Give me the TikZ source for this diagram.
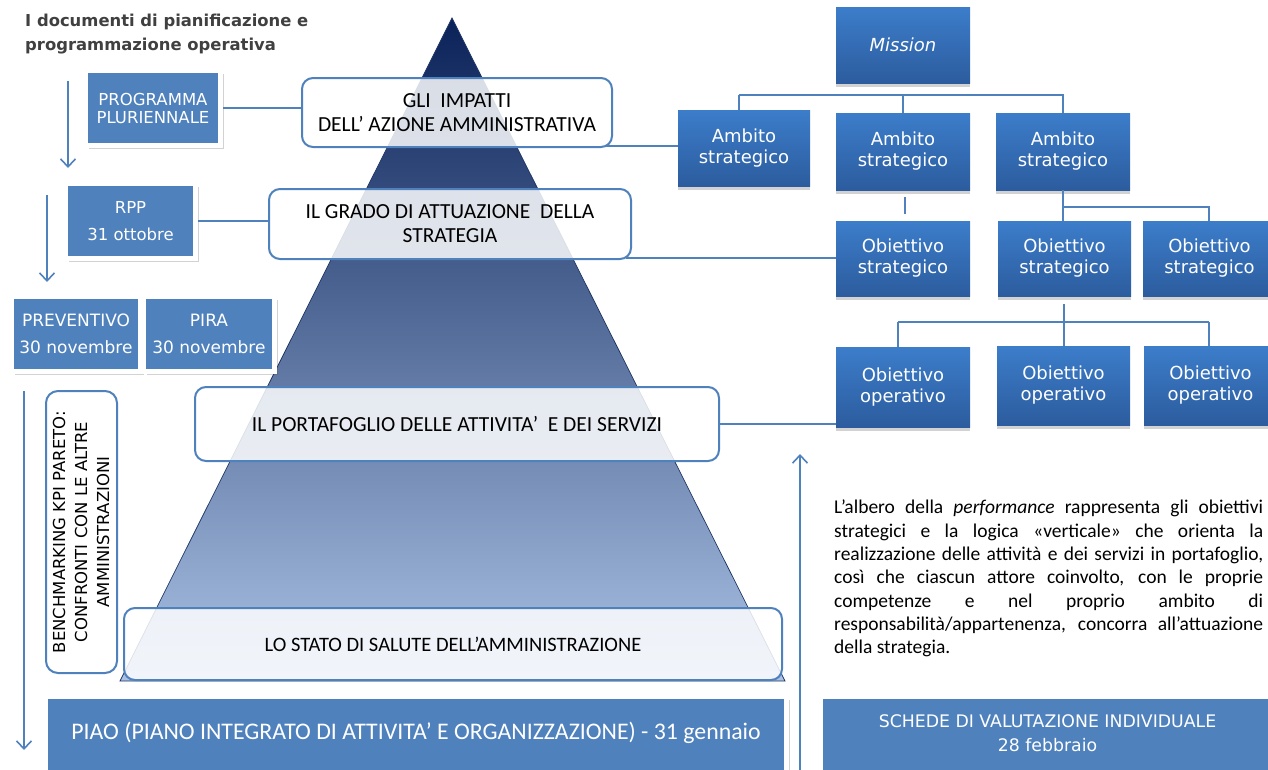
\documentclass[tikz,border=0pt]{standalone}
\usepackage{fontspec}
\setmainfont{DejaVu Sans}
\newfontfamily\calfont{Carlito}
\usetikzlibrary{shadows,arrows.meta}
\definecolor{boxblue}{RGB}{79,129,189}
\definecolor{treetop}{RGB}{60,125,202}
\definecolor{treebot}{RGB}{44,92,158}
\definecolor{pyrtop}{RGB}{10,34,88}
\definecolor{pyrbot}{RGB}{170,194,228}
\definecolor{pyredge}{RGB}{30,52,100}
\definecolor{titlegrey}{RGB}{64,64,64}
\tikzset{
  conn/.style={draw=boxblue, line width=1.3pt},
  arr/.style={draw=boxblue, line width=1.6pt, -{Straight Barb[length=8pt,width=15pt,line width=1.6pt]}},
  docbox/.style={rectangle, fill=boxblue, draw=white, line width=5pt, text=white, align=center, inner sep=0pt,
    drop shadow={shadow xshift=3pt, shadow yshift=-3pt, opacity=0.25, fill=black!70}},
  treebox/.style={rectangle, top color=treetop, bottom color=treebot, text=white, align=center, inner sep=0pt,
    font=\fontsize{18}{21}\selectfont,
    drop shadow={shadow xshift=0pt, shadow yshift=-4pt, opacity=0.22, fill=black!80}},
  levelbox/.style={rectangle, rounded corners=11pt, draw=boxblue, line width=2pt, fill=white, fill opacity=0.84,
    text opacity=1, text=black, align=center, inner sep=0pt, font=\calfont\fontsize{21.5}{24}\selectfont},
  plain/.style={inner sep=0pt, align=center},
}
\begin{document}
\begin{tikzpicture}[x=1pt,y=-1pt]
\useasboundingbox (0,0) rectangle (1268,769);

% title
\node[anchor=north west, inner sep=0pt, align=left, text=titlegrey, font=\bfseries\fontsize{16.4}{24}\selectfont] (title) at (25,14)
  {I documenti di pianificazione e\\programmazione operativa};

% pyramid
\path[top color=pyrtop, bottom color=pyrbot, draw=pyredge, line width=0.7pt] (452,18) coordinate (apex) -- (785,681) coordinate (br) -- (120,681) coordinate (bl) -- cycle;

% level boxes
\node[levelbox, minimum width=310pt, minimum height=69pt] (gli) at (457,112.5) {GLI\ \ IMPATTI\\DELL’ AZIONE AMMINISTRATIVA};
\node[levelbox, minimum width=362pt, minimum height=70pt] (grado) at (450,224) {IL GRADO DI ATTUAZIONE\ \ DELLA\\STRATEGIA};
\node[levelbox, minimum width=524pt, minimum height=74pt] (porta) at (457,424) {IL PORTAFOGLIO DELLE ATTIVITA’\ \ E DEI SERVIZI};
\node[levelbox, minimum width=658pt, minimum height=72pt, font=\calfont\fontsize{20.5}{24}\selectfont] (stato) at (453,644) {LO STATO DI SALUTE DELL’AMMINISTRAZIONE};

% left document boxes
\node[docbox, minimum width=135pt, minimum height=75pt, font=\fontsize{16.5}{18}\selectfont] (prog) at (153,108) {PROGRAMMA\\PLURIENNALE};
\node[docbox, minimum width=130pt, minimum height=75pt, font=\fontsize{16.5}{27}\selectfont] (rpp) at (130.5,221) {RPP\\31 ottobre};
\node[docbox, minimum width=129pt, minimum height=75pt, font=\fontsize{17}{27}\selectfont] (prev) at (76,334) {PREVENTIVO\\30 novembre};
\node[docbox, minimum width=131pt, minimum height=75pt, font=\fontsize{17}{27}\selectfont] (pira) at (209,334) {PIRA\\30 novembre};

% bottom boxes
\node[docbox, minimum width=741pt, minimum height=90pt] (piao) at (416,741.5) {};
\node[plain, text=white, font=\calfont\fontsize{23.8}{26}\selectfont] (piaot) at (416,733) {PIAO (PIANO INTEGRATO DI ATTIVITA’ E ORGANIZZAZIONE) - 31 gennaio};
\node[docbox, minimum width=470pt, minimum height=90pt] (schede) at (1055.5,741.5) {};
\node[plain, text=white, font=\fontsize{17.3}{24}\selectfont] (schedet) at (1047.5,733.5) {SCHEDE DI VALUTAZIONE INDIVIDUALE\\28 febbraio};

% benchmarking
\node[rectangle, rounded corners=12pt, draw=boxblue, line width=2pt, minimum width=71pt, minimum height=282pt] (bench) at (81.5,532) {};
\node[plain, rotate=90, font=\fontsize{16.5}{22}\selectfont] (bencht) at (81,532) {BENCHMARKING KPI PARETO:\\CONFRONTI CON LE ALTRE\\AMMINISTRAZIONI};

% tree
\node[treebox, minimum width=134pt, minimum height=76pt, font=\itshape\fontsize{18}{21}\selectfont] (mission) at (903,45) {Mission};
\node[treebox, minimum width=132pt, minimum height=76pt] (amb1) at (744,148) {Ambito\\strategico};
\node[treebox, minimum width=134pt, minimum height=77pt] (amb2) at (903,151.5) {Ambito\\strategico};
\node[treebox, minimum width=134pt, minimum height=77pt] (amb3) at (1063,151.5) {Ambito\\strategico};
\node[treebox, minimum width=134pt, minimum height=75pt] (objs1) at (903,258.5) {Obiettivo\\strategico};
\node[treebox, minimum width=133pt, minimum height=75pt] (objs2) at (1064.5,258.5) {Obiettivo\\strategico};
\node[treebox, minimum width=133pt, minimum height=75pt] (objs3) at (1209.5,258.5) {Obiettivo\\strategico};
\node[treebox, minimum width=134pt, minimum height=80pt] (objo1) at (903,387) {Obiettivo\\operativo};
\node[treebox, minimum width=133pt, minimum height=79pt] (objo2) at (1063.5,385.5) {Obiettivo\\operativo};
\node[treebox, minimum width=133pt, minimum height=79pt] (objo3) at (1210.5,385.5) {Obiettivo\\operativo};

% tree connectors
\coordinate (hL) at (739,95);
\coordinate (hR) at (1064,95);
\draw[conn] (hL) -- (hR);
\draw[conn] (hL) -- (hL |- amb1.north);
\draw[conn] (amb2.north) -- (amb2.north |- hL);
\draw[conn] (amb3.north) -- (amb3.north |- hL);
\coordinate (s1) at (905,197);
\coordinate (s2) at (905,214);
\draw[conn] (s1) -- (s2);
\draw[conn] (amb3.south) -- (amb3.south |- objs2.north);
\coordinate (j1) at (1063,207);
\coordinate (j1r) at (1209,207);
\draw[conn] (j1) -- (j1r) -- (j1r |- objs3.north);
\coordinate (k0) at (1064,304);
\coordinate (k1) at (1064,322);
\coordinate (kL) at (898,322);
\coordinate (kR) at (1209,322);
\draw[conn] (k0) -- (k1) -- (k1 |- objo2.north);
\draw[conn] (kL) -- (kR);
\draw[conn] (kL) -- (kL |- objo1.north);
\draw[conn] (kR) -- (kR |- objo3.north);

% links between columns
\draw[conn] (prog.east) -- (prog.east -| gli.west);
\draw[conn] (rpp.east) -- (rpp.east -| grado.west);
\draw[conn] ([xshift=-8pt,yshift=2pt]gli.south east) -- ([yshift=2pt]gli.south east -| amb1.west);
\draw[conn] ([xshift=-6pt,yshift=2pt]grado.south east) -- ([yshift=2pt]grado.south east -| objs1.west);
\draw[conn] (porta.east) -- (porta.east -| objo1.west);

% arrows
\coordinate (a1s) at (68,81);  \coordinate (a1e) at (68,168);
\coordinate (a2s) at (47,195); \coordinate (a2e) at (47,282);
\coordinate (a3s) at (24,391); \coordinate (a3e) at (24,750);
\coordinate (ups) at (800,772); \coordinate (upe) at (800,454);
\draw[arr] (a1s) -- (a1e);
\draw[arr] (a2s) -- (a2e);
\draw[arr] (a3s) -- (a3e);
\draw[arr] (ups) -- (upe);

% paragraph
\node[anchor=north west, inner sep=0pt, text width=429pt, align=justify, font=\calfont\fontsize{19.5}{23.3}\selectfont] (para) at (834,500)
 {\hyphenpenalty=10000\exhyphenpenalty=10000
 L’albero della \textit{performance} rappresenta gli obiettivi\linebreak
 strategici e la logica «verticale» che orienta la\linebreak
 realizzazione delle attività e dei servizi in portafoglio,\linebreak
 così che ciascun attore coinvolto, con le proprie\linebreak
 competenze e nel proprio ambito di\linebreak
 responsabilità/appartenenza, concorra all’attuazione\linebreak
 della strategia.};
\end{tikzpicture}
\end{document}
